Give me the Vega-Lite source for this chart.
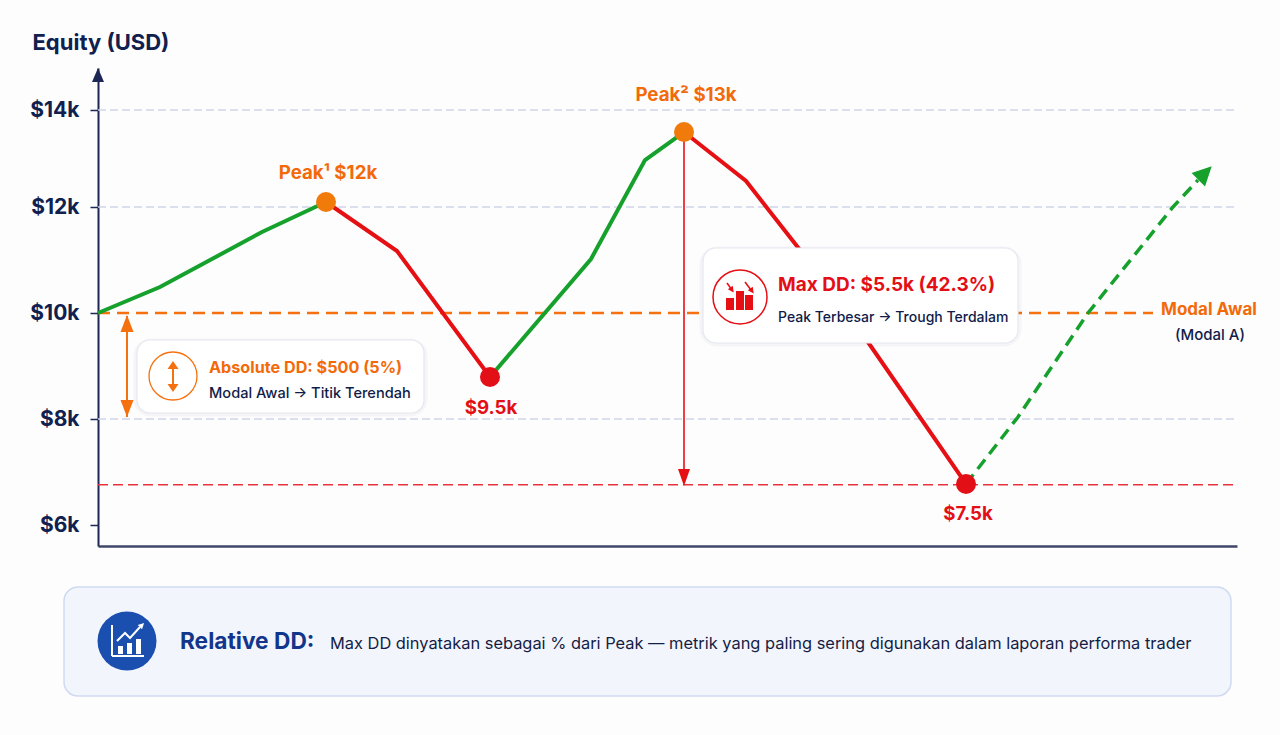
{
"$schema":"https://vega.github.io/schema/vega-lite/v6.json",
"width":1139,"height":478,
"autosize":{"type":"none"},
"padding":{"left":98,"top":68,"right":43,"bottom":189},
"background":"#fdfdfe",
"config":{"view":{"stroke":null},"text":{"font":"Inter"},"axis":{"labelFont":"Inter","titleFont":"Inter"}},
"datasets":{
"equity":[
{"day":0,"equity":10000,"leg":"a","move":"naik"},{"day":6.2,"equity":10490,"leg":"a","move":"naik"},{"day":16.4,"equity":11528,"leg":"a","move":"naik"},{"day":22.8,"equity":12103,"leg":"a","move":"naik"},
{"day":22.8,"equity":12103,"leg":"b","move":"turun"},{"day":29.9,"equity":11170,"leg":"b","move":"turun"},{"day":39.2,"equity":8792,"leg":"b","move":"turun"},
{"day":39.2,"equity":8792,"leg":"c","move":"naik"},{"day":49.3,"equity":11019,"leg":"c","move":"naik"},{"day":54.7,"equity":12969,"leg":"c","move":"naik"},{"day":58.6,"equity":13546,"leg":"c","move":"naik"},
{"day":58.6,"equity":13546,"leg":"d","move":"turun"},{"day":64.8,"equity":12536,"leg":"d","move":"turun"},{"day":70.2,"equity":11189,"leg":"d","move":"turun"},{"day":77.2,"equity":9396,"leg":"d","move":"turun"},{"day":86.8,"equity":6774,"leg":"d","move":"turun"}],
"projection":[{"day":86.8,"equity":6774},{"day":92,"equity":8038},{"day":99,"equity":10000},{"day":107.5,"equity":12000},{"day":110,"equity":12557}],
"turns":[{"day":22.8,"equity":12103,"kind":"peak"},{"day":39.2,"equity":8792,"kind":"trough"},{"day":58.6,"equity":13546,"kind":"peak"},{"day":86.8,"equity":6774,"kind":"trough"}],
"grid":[{"day":0,"dayEnd":113.7,"equity":14000},{"day":0,"dayEnd":113.7,"equity":12000},{"day":0,"dayEnd":113.7,"equity":8000}],
"cards":[{"day":3.9,"dayEnd":32.6,"equity":9491,"equityEnd":8113},{"day":60.5,"dayEnd":92,"equity":11226,"equityEnd":9434}],
"notes":[
{"day":23.0,"equity":12577,"text":"Peak¹ $12k","kind":"peakText"},{"day":58.8,"equity":14186,"text":"Peak² $13k","kind":"peakText"},
{"day":39.3,"equity":8094,"text":"$9.5k","kind":"trough"},{"day":87.0,"equity":6094,"text":"$7.5k","kind":"trough"}]
},
"encoding":{
"x":{"field":"day","type":"quantitative","scale":{"domain":[0,113.9],"nice":false,"zero":false},
"axis":{"title":null,"labels":false,"ticks":false,"grid":false,"domainColor":"#3f4768","domainWidth":2.5}},
"y":{"field":"equity","type":"quantitative",
"scale":{"domain":[5600,6000,8000,10000,12000,14000,14866],"range":[478,457,351,245,139,42,0],"nice":false,"zero":false},
"axis":{"title":"Equity (USD)","titleAngle":0,"titleAlign":"left","titleBaseline":"alphabetic","titleX":-66,"titleY":-19,"titleFontSize":22,"titleFontWeight":700,"titleColor":"#10204f",
"values":[6000,8000,10000,12000,14000],"labelExpr":"'$' + datum.value/1000 + 'k'","labelFontSize":21,"labelFontWeight":700,"labelColor":"#10204f","labelPadding":11,
"tickColor":"#1c2755","tickSize":8,"tickWidth":1.5,"grid":false,"domainColor":"#1c2755","domainWidth":2}}
},
"layer":[
{"data":{"name":"grid"},"mark":{"type":"rule","color":"#cfd3e6","strokeWidth":1.5,"strokeDash":[8,4]},"encoding":{"x2":{"field":"dayEnd"}}},
{"data":{"values":[{"day":0,"equity":14722}]},"mark":{"type":"point","filled":true,"opacity":1,"color":"#1c2755","shape":"M0,-1.15L-1,1.15L1,1.15Z","size":144}},
{"data":{"values":[{"day":0,"dayEnd":105.5,"equity":10000}]},"mark":{"type":"rule","color":"#f5710f","strokeWidth":2.5,"strokeDash":[12,7]},"encoding":{"x2":{"field":"dayEnd"}}},
{"data":{"values":[{"day":0,"dayEnd":113.7,"equity":6760}]},"mark":{"type":"rule","color":"#e8323c","strokeWidth":1.5,"strokeDash":[10,5]},"encoding":{"x2":{"field":"dayEnd"}}},
{"data":{"name":"projection"},"mark":{"type":"line","color":"#16a02c","strokeWidth":3.5,"strokeDash":[12,7]}},
{"data":{"values":[{"day":110.7,"equity":12701}]},"mark":{"type":"point","filled":true,"opacity":1,"color":"#16a02c","shape":"M0,-1L-1,1L1,1Z","size":361,"angle":45}},
{"data":{"name":"equity"},"mark":{"type":"line","strokeWidth":4},"encoding":{"detail":{"field":"leg"},"color":{"field":"move","scale":{"domain":["naik","turun","peak","trough","peakText"],"range":["#16a02c","#e60f14","#f07a0a","#e30f17","#f26a0a"]},"legend":null}}},
{"data":{"values":[{"day":58.6,"equity":13546,"equityEnd":6943}]},"mark":{"type":"rule","color":"#e60f14","strokeWidth":1.6},"encoding":{"y2":{"field":"equityEnd"}}},
{"data":{"values":[{"day":58.6,"equity":6896}]},"mark":{"type":"point","filled":true,"opacity":1,"color":"#e60f14","shape":"M0,-1.4L-1,1.4L1,1.4Z","size":144,"angle":180}},
{"data":{"values":[{"day":2.9,"equity":9943,"equityEnd":8038}]},"mark":{"type":"rule","color":"#f5710f","strokeWidth":2},"encoding":{"y2":{"field":"equityEnd"}}},
{"data":{"values":[{"day":2.9,"equity":9802}]},"mark":{"type":"point","filled":true,"opacity":1,"color":"#f5710f","shape":"M0,-1.3L-1,1.3L1,1.3Z","size":169}},
{"data":{"values":[{"day":2.9,"equity":8198}]},"mark":{"type":"point","filled":true,"opacity":1,"color":"#f5710f","shape":"M0,-1.3L-1,1.3L1,1.3Z","size":169,"angle":180}},
{"data":{"name":"turns"},"mark":{"type":"point","filled":true,"opacity":1,"size":400},"encoding":{"color":{"field":"kind","legend":null}}},
{"data":{"name":"cards"},"mark":{"type":"rect","fill":"#000000","fillOpacity":0,"stroke":"#1c2755","strokeOpacity":0.035,"strokeWidth":7,"cornerRadius":14,"yOffset":2},"encoding":{"x2":{"field":"dayEnd"},"y2":{"field":"equityEnd"}}},
{"data":{"name":"cards"},"mark":{"type":"rect","fill":"#ffffff","stroke":"#e6e8f0","strokeWidth":1.2,"cornerRadius":13},"encoding":{"x2":{"field":"dayEnd"},"y2":{"field":"equityEnd"}}},
{"data":{"values":[{"day":-3.4,"dayEnd":113.3,"equity":4819,"equityEnd":2743}]},"mark":{"type":"rect","fill":"#f3f5fc","stroke":"#cfdaf2","strokeWidth":1.5,"cornerRadius":14},"encoding":{"x2":{"field":"dayEnd"},"y2":{"field":"equityEnd"}}},

{"data":{"values":[{"day":7.5,"equity":8811}]},"mark":{"type":"point","filled":false,"opacity":1,"color":"#f5710f","strokeWidth":1.3,"size":2304}},
{"data":{"values":[{"day":7.5,"equity":9000,"equityEnd":8604}]},"mark":{"type":"rule","color":"#f5710f","strokeWidth":2},"encoding":{"y2":{"field":"equityEnd"}}},
{"data":{"values":[{"day":7.5,"equity":9019}]},"mark":{"type":"point","filled":true,"opacity":1,"color":"#f5710f","shape":"M0,-0.73L-1,0.73L1,0.73Z","size":121}},
{"data":{"values":[{"day":7.5,"equity":8585}]},"mark":{"type":"point","filled":true,"opacity":1,"color":"#f5710f","shape":"M0,-0.73L-1,0.73L1,0.73Z","size":121,"angle":180}},

{"data":{"values":[{"day":64.2,"equity":10302}]},"mark":{"type":"point","filled":false,"opacity":1,"color":"#e60f14","strokeWidth":1.5,"size":2916}},
{"data":{"values":[{"day":62.8,"dayEnd":63.6,"equity":10283,"equityEnd":10057},{"day":63.8,"dayEnd":64.6,"equity":10415,"equityEnd":10057},{"day":64.7,"dayEnd":65.5,"equity":10340,"equityEnd":10057}]},"mark":{"type":"rect","color":"#e60f14"},"encoding":{"x2":{"field":"dayEnd"},"y2":{"field":"equityEnd"}}},
{"data":{"values":[{"day":62.9,"dayEnd":63.3,"equity":10566,"equityEnd":10460},{"day":64.7,"dayEnd":65.3,"equity":10585,"equityEnd":10435}]},"mark":{"type":"rule","color":"#e60f14","strokeWidth":1.6},"encoding":{"x2":{"field":"dayEnd"},"y2":{"field":"equityEnd"}}},
{"data":{"values":[{"day":63.4,"equity":10434},{"day":65.4,"equity":10415}]},"mark":{"type":"point","filled":true,"opacity":1,"color":"#e60f14","shape":"M0,-1L-1,1L1,1Z","size":36,"angle":145}},

{"data":{"values":[{"day":2.9,"equity":3790}]},"mark":{"type":"point","filled":true,"opacity":1,"color":"#1a4fb0","size":3481}},
{"data":{"values":[{"day":2.0,"dayEnd":2.5,"equity":3695,"equityEnd":3543},{"day":2.9,"dayEnd":3.4,"equity":3752,"equityEnd":3543},{"day":3.8,"dayEnd":4.3,"equity":3828,"equityEnd":3543}]},"mark":{"type":"rect","color":"#ffffff"},"encoding":{"x2":{"field":"dayEnd"},"y2":{"field":"equityEnd"}}},
{"data":{"values":[{"day":1.4,"equity":4095,"equityEnd":3505,"dayEnd":1.4},{"day":1.4,"equity":3505,"equityEnd":3505,"dayEnd":4.6}]},"mark":{"type":"rule","color":"#ffffff","strokeWidth":2},"encoding":{"x2":{"field":"dayEnd"},"y2":{"field":"equityEnd"}}},
{"data":{"values":[{"day":1.9,"equity":3790},{"day":2.7,"equity":3943},{"day":3.2,"equity":3848},{"day":4.2,"equity":4057}]},"mark":{"type":"line","color":"#ffffff","strokeWidth":2}},
{"data":{"values":[{"day":4.4,"equity":4095}]},"mark":{"type":"point","filled":true,"opacity":1,"color":"#ffffff","shape":"M0,-1L-1,1L1,1Z","size":36,"angle":45}},

{"data":{"name":"notes"},"mark":{"type":"text","fontSize":18.7,"fontWeight":700,"align":"center","baseline":"alphabetic"},"encoding":{"text":{"field":"text"},"color":{"field":"kind","legend":null}}},
{"data":{"values":[{"day":111.1,"equity":9962,"text":"Modal Awal"}]},"mark":{"type":"text","fontSize":17,"fontWeight":700,"align":"center","baseline":"alphabetic","color":"#f26a0a"},"encoding":{"text":{"field":"text"}}},
{"data":{"values":[{"day":111.2,"equity":9491,"text":"(Modal A)"}]},"mark":{"type":"text","fontSize":15,"fontWeight":500,"align":"center","baseline":"alphabetic","color":"#101c4a"},"encoding":{"text":{"field":"text"}}},
{"data":{"values":[{"day":11.1,"equity":8868,"text":"Absolute DD: $500 (5%)"}]},"mark":{"type":"text","fontSize":16.2,"fontWeight":700,"align":"left","baseline":"alphabetic","color":"#f26a0a"},"encoding":{"text":{"field":"text"}}},
{"data":{"values":[{"day":68,"equity":10415,"text":"Max DD: $5.5k (42.3%)"}]},"mark":{"type":"text","fontSize":19,"fontWeight":700,"align":"left","baseline":"alphabetic","color":"#e30f17"},"encoding":{"text":{"field":"text"}}},
{"data":{"values":[{"day":11.1,"equity":8396,"text":"Modal Awal → Titik Terendah"}]},"mark":{"type":"text","fontSize":14.6,"fontWeight":500,"align":"left","baseline":"alphabetic","color":"#101c4a"},"encoding":{"text":{"field":"text"}}},
{"data":{"values":[{"day":68,"equity":9830,"text":"Peak Terbesar → Trough Terdalam"}]},"mark":{"type":"text","fontSize":14,"fontWeight":500,"align":"left","baseline":"alphabetic","color":"#101c4a"},"encoding":{"text":{"field":"text"}}},
{"data":{"values":[{"day":8.2,"equity":3638,"text":"Relative DD:"}]},"mark":{"type":"text","fontSize":22.7,"fontWeight":700,"align":"left","baseline":"alphabetic","color":"#12368c"},"encoding":{"text":{"field":"text"}}},
{"data":{"values":[{"day":23.2,"equity":3638,"text":"Max DD dinyatakan sebagai % dari Peak — metrik yang paling sering digunakan dalam laporan performa trader"}]},"mark":{"type":"text","fontSize":16.4,"fontWeight":400,"align":"left","baseline":"alphabetic","color":"#141d45"},"encoding":{"text":{"field":"text"}}}
]
}
